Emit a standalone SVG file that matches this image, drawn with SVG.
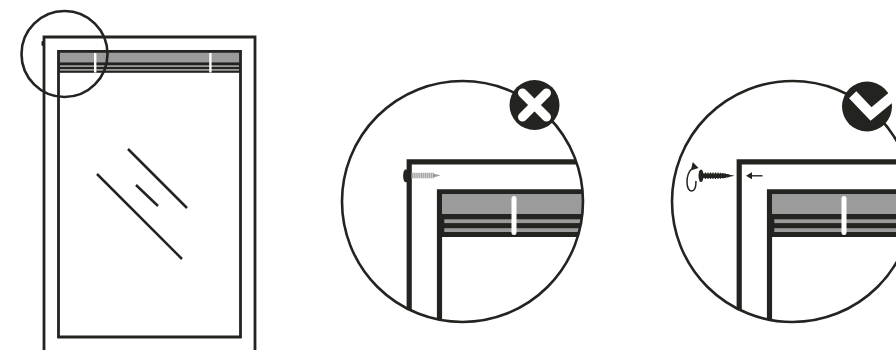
<svg xmlns="http://www.w3.org/2000/svg" width="896" height="350" viewBox="0 0 896 350">
<style>
.ln{fill:none;stroke:#232320;stroke-linecap:butt}
.th{stroke-width:2.600}
.fr{stroke-width:5.200}
.gr{fill:#9b9b9b}
.dk{fill:#232320}
.wt{fill:#fff}
</style>
<defs>
<clipPath id="c1"><circle cx="462.5" cy="201.5" r="120.5"/></clipPath>
<clipPath id="c2"><circle cx="792.5" cy="201.5" r="120.5"/></clipPath>
<g id="detail">
<path class="ln fr" d="M409.200 330V161.800H600"/>
<path class="ln fr" d="M439.500 330V191.800H600"/>
<rect class="gr" x="442" y="194.300" width="160" height="19.700"/>
<rect class="dk" x="437" y="214" width="165" height="23"/>
<rect class="gr" x="444.300" y="219.300" width="160" height="3.800"/>
<rect class="gr" x="444.300" y="228.200" width="160" height="3.800"/>
<rect class="wt" x="511.500" y="196" width="5" height="39" rx="2.500"/>
</g>
</defs>
<g id="window">
<path class="ln" stroke-width="2.800" d="M44 350V37H255V350"/>
<rect class="gr" x="59" y="52" width="181" height="10.500"/>
<rect class="dk" x="58" y="62.300" width="183" height="10.500"/>
<rect class="gr" x="60" y="65.200" width="179" height="1.800"/>
<rect class="gr" x="60" y="69" width="179" height="1.800"/>
<path class="ln" stroke-width="2.800" d="M58.500 338V51.300H240.500V338"/>
<path class="ln" stroke-width="3" d="M57.500 337H241.500"/>
<rect class="wt" x="94" y="53" width="2.400" height="19.500"/>
<rect class="wt" x="209.200" y="53" width="2.400" height="19.500"/>
<path class="ln" stroke-width="2.500" d="M128 149L187 208M136 185L158 206M97 174L182 259"/>
</g>
<g id="zoom-marker">
<circle class="ln th" cx="64.500" cy="54" r="43"/>
<rect class="dk" x="41.500" y="41" width="2" height="5" rx="1"/>
</g>
<g id="wrong">
<g clip-path="url(#c1)"><use href="#detail"/></g>
<circle class="ln th" cx="462.500" cy="201.500" r="120.500"/>
<path class="ln" style="stroke:#a8a8a8" stroke-width="5.500" stroke-dasharray="1.500 .4" d="M411.500 175.500H434"/>
<path class="gr" d="M433 173.500L440.500 175.500L433 177.500Z"/>
<ellipse class="dk" cx="405.800" cy="175.800" rx="2.700" ry="6.500"/>
<circle class="dk" cx="534.500" cy="105" r="25"/>
<path d="M522.500 93L546.500 117M546.500 93L522.500 117" stroke="#fff" stroke-width="9" stroke-linecap="round" fill="none"/>
</g>
<g id="right">
<g clip-path="url(#c2)"><use href="#detail" x="330"/></g>
<circle class="ln th" cx="792.500" cy="201.500" r="120.500"/>
<ellipse class="dk" cx="701" cy="175.800" rx="2.500" ry="6.300"/>
<path class="dk" d="M701 173.300L706 173.500H724L734.500 175.800L724 178.100H706L701 178.300Z"/>
<path class="ln" stroke-width="1.200" d="M705.500 172.500V179M708 172.500V179M710.500 172.500V179M713 172.500V179M715.500 172.500V179M718 172.500V179M720.500 172.800V178.800M723 173V178.500M725.500 173.500V178M728 174V177.500"/>
<path class="ln" stroke-width="1.500" d="M691.500 169C688.500 172 687 177 687 182C687 187.500 689 191 691.500 191C694.500 191 696 187 696 181"/>
<path class="dk" d="M692.800 162L698.500 168L690.800 170.500Z"/>
<path class="ln" stroke-width="1.400" d="M750 175.800H762.500"/>
<path class="dk" d="M746 175.800L752 172.300V179.300Z"/>
<circle class="dk" cx="867" cy="106.500" r="25"/>
<path d="M852.700 94.700L871 114L895 94" stroke="#fff" stroke-width="10" fill="none"/>
</g>
</svg>
